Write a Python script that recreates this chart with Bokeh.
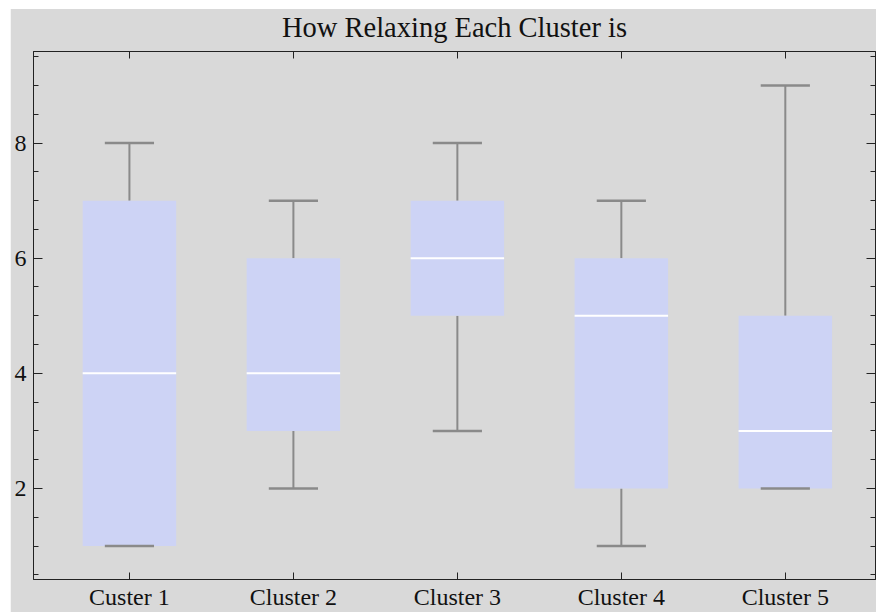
import numpy as np
from bokeh.plotting import figure
from bokeh.models import FixedTicker, SingleIntervalTicker, LinearAxis, Spacer
from bokeh.layouts import row
from bokeh.embed import file_html
from bokeh.resources import INLINE

# data
categories = ["Custer 1", "Cluster 2", "Cluster 3", "Cluster 4", "Cluster 5"]
lower = [1, 2, 3, 1, 2]
q1 = [1, 3, 5, 2, 2]
median = [4, 4, 6, 5, 3]
q3 = [7, 6, 7, 6, 5]
upper = [8, 7, 8, 7, 9]

xs = np.arange(1, len(categories) + 1)
box_w = 0.57
cap_w = 0.30

FONT = "Liberation Serif"
BG = "#d9d9d9"
BOX = "#cdd3f5"
WHISK = "#8a8a8a"
DARK = "#222222"

p = figure(width=866, height=612, x_range=(0.415, 5.55), y_range=(0.42, 9.59),
           output_backend="svg", toolbar_location=None,
           min_border_left=23, min_border_right=1, min_border_top=51, min_border_bottom=33,
           background_fill_color=BG, border_fill_color=BG)
p.styles = {"clip-path": "inset(9px 0px 0px 0px)"}
p.grid.visible = False
p.outline_line_color = DARK

p.title.text = "How Relaxing Each Cluster is"
p.title.text_font = FONT
p.title.text_font_size = "28.5px"
p.title.text_font_style = "normal"
p.title.align = "center"
p.title.text_color = "#111111"
p.title.standoff = 18

xt = FixedTicker(ticks=list(xs))
yt = SingleIntervalTicker(interval=2, num_minor_ticks=4)

ax = p.xaxis[0]
ax.ticker = xt
ax.major_label_overrides = {int(i): c for i, c in zip(xs, categories)}
ax.major_tick_in = 7
ax.major_tick_out = 0
ax.minor_tick_line_color = None
ax.major_label_text_font = FONT
ax.major_label_text_font_size = "24px"
ax.major_label_text_color = "#111111"
ax.major_label_standoff = 4
ax.axis_line_color = DARK
ax.major_tick_line_color = DARK

ay = p.yaxis[0]
ay.ticker = yt
ay.major_tick_in = 9
ay.major_tick_out = 0
ay.minor_tick_in = 5
ay.minor_tick_out = 0
ay.major_label_text_font = FONT
ay.major_label_text_font_size = "24px"
ay.major_label_text_color = "#111111"
ay.major_label_standoff = 7
ay.axis_line_color = DARK
ay.major_tick_line_color = DARK
ay.minor_tick_line_color = DARK

top = LinearAxis(ticker=FixedTicker(ticks=list(xs)), major_tick_in=7, major_tick_out=0,
                 minor_tick_line_color=None, major_label_text_font_size="1px",
                 major_label_text_color=None, major_label_standoff=0,
                 axis_line_color=DARK, major_tick_line_color=DARK)
right = LinearAxis(ticker=SingleIntervalTicker(interval=2, num_minor_ticks=4), major_tick_in=9,
                   major_tick_out=0, minor_tick_in=5, minor_tick_out=0,
                   major_label_text_font_size="1px", major_label_text_color=None,
                   major_label_standoff=0,
                   axis_line_color=DARK, major_tick_line_color=DARK,
                   minor_tick_line_color=DARK)
p.add_layout(top, "above")
p.add_layout(right, "right")

# whiskers
p.segment(x0=xs, y0=q3, x1=xs, y1=upper, line_color=WHISK, line_width=2)
p.segment(x0=xs, y0=lower, x1=xs, y1=q1, line_color=WHISK, line_width=2)
# boxes
p.vbar(x=xs, width=box_w, bottom=q1, top=q3, fill_color=BOX, line_color=None)
# caps
p.segment(x0=xs - cap_w / 2, y0=upper, x1=xs + cap_w / 2, y1=upper, line_color=WHISK, line_width=2.5)
p.segment(x0=xs - cap_w / 2, y0=lower, x1=xs + cap_w / 2, y1=lower, line_color=WHISK, line_width=2.5)
# medians
p.segment(x0=xs - box_w / 2, y0=median, x1=xs + box_w / 2, y1=median, line_color="white", line_width=2)

layout = row(Spacer(width=10, height=612), p)

open("out.html", "w").write(file_html(layout, INLINE))
